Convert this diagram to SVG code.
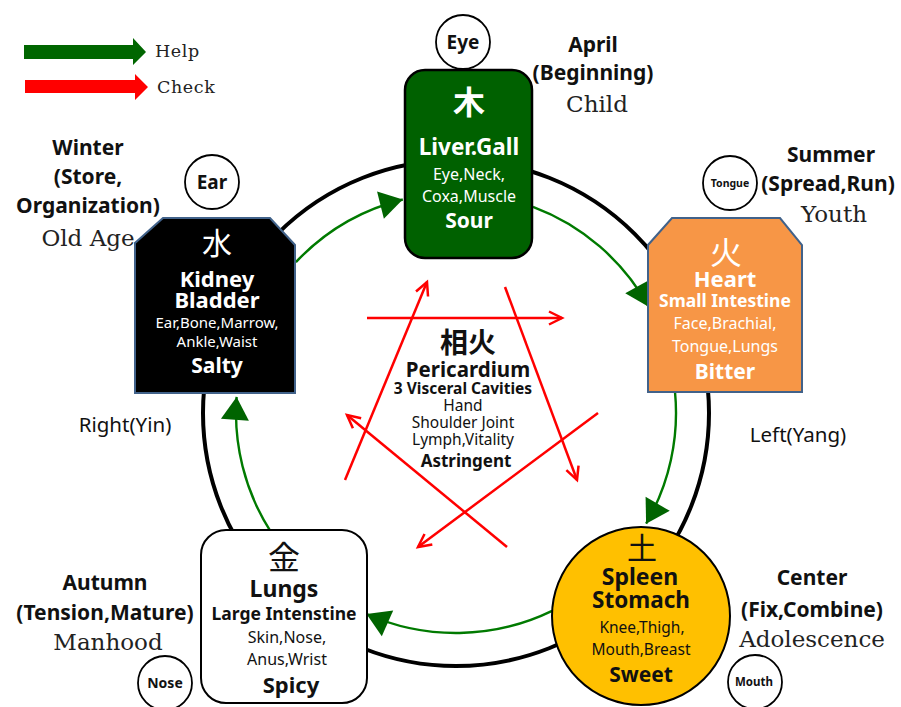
<svg xmlns="http://www.w3.org/2000/svg" width="901" height="707" viewBox="0 0 901 707">
<style>
.s{font-family:"Noto Sans","Noto Sans CJK KR",sans-serif;text-anchor:middle}
.b{font-weight:bold}
.cjk{font-family:"Noto Sans CJK KR","Noto Sans CJK SC",sans-serif;text-anchor:middle}
.sf{font-family:"DejaVu Serif","Liberation Serif",serif;text-anchor:middle;fill:#222}
.w{fill:#fff}
.k{fill:#111}
.lbl{font-size:21px;font-weight:bold}
.help{stroke:#007a00;stroke-width:2.4;fill:none;marker-end:url(#gh)}
.chk{stroke:#ff0000;stroke-width:2.5;fill:none;marker-end:url(#rh)}
.ring{fill:#fff;stroke:#000;stroke-width:1.8}
</style>
<defs>
<marker id="gh" markerUnits="userSpaceOnUse" markerWidth="30" markerHeight="30" refX="23" refY="14" orient="auto" overflow="visible">
<path d="M0,0 L23,14 L0,28 Z" fill="#006400"/>
</marker>
<marker id="rh" markerUnits="userSpaceOnUse" markerWidth="20" markerHeight="20" refX="13" refY="6.5" orient="auto" overflow="visible">
<path d="M0,0 L13,6.5 L0,13" fill="none" stroke="#ff0000" stroke-width="2.5"/>
</marker>
</defs>
<rect width="901" height="707" fill="#fff"/>

<g id="legend">
<polygon points="24,45 133,45 133,38 146,52 133,65 133,59 24,59" fill="#006600"/>
<polygon points="25,80 135,80 135,74 148,87 135,100 135,93 25,93" fill="#ff0000"/>
<text x="155" y="57" font-family="DejaVu Serif, serif" font-size="17.5" letter-spacing="0.6" fill="#222">Help</text>
<text x="157" y="93" font-family="DejaVu Serif, serif" font-size="17.5" letter-spacing="0.6" fill="#222">Check</text>
</g>

<g id="ring">
<circle cx="456" cy="413" r="253" fill="none" stroke="#000" stroke-width="4"/>
</g>

<g id="connectors">
<path class="help" d="M295.9,262.1 A220,220 0 0 1 402.8,199.5"/>
<path class="help" d="M533.0,206.9 A220,220 0 0 1 648.6,306.7"/>
<path class="help" d="M675.0,391.9 A220,220 0 0 1 646.1,523.7"/>
<path class="help" d="M552.1,610.9 A220,220 0 0 1 366.5,614.0"/>
<path class="help" d="M269.8,530.2 A220,220 0 0 1 236.6,396.9"/>
<line class="chk" x1="367" y1="318" x2="562" y2="318"/>
<line class="chk" x1="345" y1="480" x2="427" y2="282"/>
<line class="chk" x1="505" y1="287" x2="577" y2="480"/>
<line class="chk" x1="598" y1="413" x2="418" y2="547"/>
<line class="chk" x1="507" y1="547" x2="347" y2="415"/>
</g>

<g id="wood">
<rect x="405" y="70" width="127" height="188" rx="20" fill="#006100" stroke="#000" stroke-width="2.5"/>
<text class="cjk b w" x="469" y="114" font-size="32">木</text>
<text class="s b w" x="469" y="155" font-size="22.5">Liver.Gall</text>
<text class="s w" x="469" y="180" font-size="16">Eye,Neck,</text>
<text class="s w" x="469" y="202" font-size="16">Coxa,Muscle</text>
<text class="s b w" x="469" y="228" font-size="21">Sour</text>
</g>
<g id="eye">
<circle class="ring" cx="463" cy="42" r="27"/>
<text class="s b k" x="463" y="49" font-size="19">Eye</text>
</g>
<g id="april">
<text class="s lbl k" x="593" y="52">April</text>
<text class="s lbl k" x="593" y="80">(Beginning)</text>
<text class="sf" x="597" y="112" font-size="23">Child</text>
</g>

<g id="water">
<polygon points="163,218 270,218 295,245 295,393 135,393 135,243" fill="#000" stroke="#41628a" stroke-width="2"/>
<text class="cjk w" x="217" y="254" font-size="30">水</text>
<text class="s b w" x="217" y="287" font-size="22">Kidney</text>
<text class="s b w" x="217" y="308" font-size="22">Bladder</text>
<text class="s w" x="217" y="328" font-size="15">Ear,Bone,Marrow,</text>
<text class="s w" x="217" y="347" font-size="15">Ankle,Waist</text>
<text class="s b w" x="217" y="373" font-size="21">Salty</text>
</g>
<g id="ear">
<circle class="ring" cx="212" cy="182" r="27"/>
<text class="s b k" x="212" y="189" font-size="19">Ear</text>
</g>
<g id="winter">
<text class="s lbl k" x="88" y="155">Winter</text>
<text class="s lbl k" x="88" y="184">(Store,</text>
<text class="s lbl k" x="88" y="213">Organization)</text>
<text class="sf" x="88" y="246" font-size="23">Old Age</text>
</g>

<g id="fire">
<polygon points="672,218 780,218 802,245 802,392 648,392 648,245" fill="#f79646" stroke="#41628a" stroke-width="2"/>
<text class="cjk w" x="726" y="264" font-size="32">火</text>
<text class="s b w" x="725" y="287" font-size="22">Heart</text>
<text class="s b w" x="725" y="307" font-size="17.5">Small Intestine</text>
<text class="s w" x="725" y="329" font-size="16">Face,Brachial,</text>
<text class="s w" x="725" y="352" font-size="16">Tongue,Lungs</text>
<text class="s b w" x="725" y="379" font-size="21">Bitter</text>
</g>
<g id="tongue">
<circle class="ring" cx="730" cy="183" r="27"/>
<text class="s b k" x="730" y="187" font-size="10.5">Tongue</text>
</g>
<g id="summer">
<text class="s lbl k" x="831" y="162">Summer</text>
<text class="s lbl k" x="828" y="191">(Spread,Run)</text>
<text class="sf" x="834" y="222" font-size="23">Youth</text>
</g>

<g id="sides">
<text class="s k" x="125" y="432" font-size="20.5">Right(Yin)</text>
<text class="s k" x="798" y="442" font-size="20.5">Left(Yang)</text>
</g>

<g id="pericardium">
<text class="cjk b k" x="468" y="353" font-size="28">相火</text>
<text class="s b k" x="468" y="377" font-size="20.5">Pericardium</text>
<text class="s b k" x="463" y="394" font-size="15.5">3 Visceral Cavities</text>
<text class="s k" x="463" y="411" font-size="15.5">Hand</text>
<text class="s k" x="463" y="428" font-size="15.5">Shoulder Joint</text>
<text class="s k" x="463" y="445" font-size="15.5">Lymph,Vitality</text>
<text class="s b k" x="466" y="467" font-size="17">Astringent</text>
</g>

<g id="metal">
<rect x="201" y="530" width="166" height="173" rx="25" fill="#fff" stroke="#000" stroke-width="2"/>
<text class="cjk k" x="284" y="569" font-size="32">金</text>
<text class="s b k" x="284" y="597" font-size="23">Lungs</text>
<text class="s b k" x="284" y="620" font-size="17.5">Large Intenstine</text>
<text class="s k" x="287" y="643" font-size="16">Skin,Nose,</text>
<text class="s k" x="287" y="665" font-size="16">Anus,Wrist</text>
<text class="s b k" x="291" y="693" font-size="22">Spicy</text>
</g>
<g id="nose">
<circle class="ring" cx="165" cy="683" r="27"/>
<text class="s b k" x="165" y="688" font-size="14">Nose</text>
</g>
<g id="autumn">
<text class="s lbl k" x="105" y="590">Autumn</text>
<text class="s lbl k" x="105" y="620">(Tension,Mature)</text>
<text class="sf" x="108" y="650" font-size="23">Manhood</text>
</g>

<g id="earth">
<circle cx="641" cy="616" r="89" fill="#ffc000" stroke="#000" stroke-width="2"/>
<text class="cjk k" x="642" y="559" font-size="30">土</text>
<text class="s b k" x="640" y="585" font-size="23">Spleen</text>
<text class="s b k" x="641" y="608" font-size="22.5">Stomach</text>
<text class="s k" x="642" y="633" font-size="15.5">Knee,Thigh,</text>
<text class="s k" x="641" y="655" font-size="15.5">Mouth,Breast</text>
<text class="s b k" x="641" y="682" font-size="21">Sweet</text>
</g>
<g id="mouth">
<circle class="ring" cx="755" cy="682" r="27"/>
<text class="s b k" x="754" y="686" font-size="11.5">Mouth</text>
</g>
<g id="center">
<text class="s lbl k" x="812" y="585">Center</text>
<text class="s lbl k" x="812" y="617">(Fix,Combine)</text>
<text class="sf" x="812" y="647" font-size="23">Adolescence</text>
</g>
</svg>
